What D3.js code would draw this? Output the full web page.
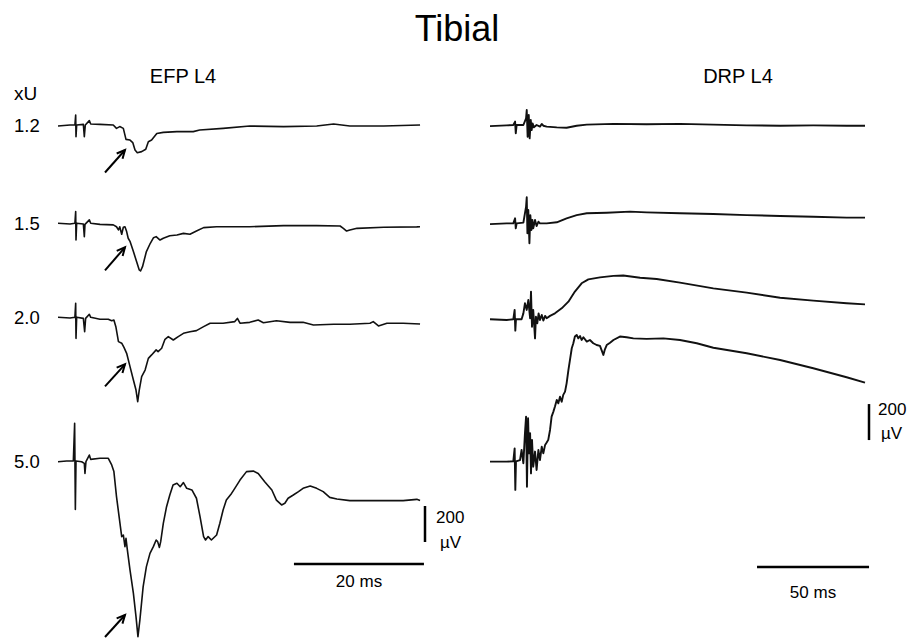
<!DOCTYPE html>
<html><head><meta charset="utf-8">
<script src="https://cdn.jsdelivr.net/npm/d3@7"></script>
<style>body{margin:0;background:#fff}text{font-family:Arial,"Liberation Sans",sans-serif;fill:#000}</style>
</head><body><svg id="c" width="917" height="638"></svg>
<script>
// ---- data (time in ms, amplitude in µV, relative to each trace baseline) ----
const title = "Tibial";
const panels = ["EFP L4", "DRP L4"];
const rowLabels = ["1.2", "1.5", "2.0", "5.0"];
const efpScaleMs = 20, drpScaleMs = 50, scaleUv = 200;

const efp12 = [[0,-3],[1.85,3],[2.6,3],[2.72,58],[2.77,-62],[2.87,3],[3.9,6],[4.05,-62],[4.2,3],[4.82,27],[5.03,8],[6.46,6],[8.5,3],[9.0,-16],[9.5,-6],[10.05,-16],[10.46,-77],[11.08,-81],[11.5,-95],[11.85,-136],[12.2,-151],[12.87,-145],[13.5,-132],[13.9,-90],[14.4,-81],[15.2,-44],[16.2,-38],[18.3,-34],[20.8,-34],[21.8,-25],[25.4,-16],[29.5,-3],[34.7,-6],[39.8,-3],[42.4,8],[44.9,-3],[50.1,-3],[55.7,3]];
const efp15 = [[0,0],[1.85,-4],[2.6,0],[2.72,65],[2.77,-93],[2.87,0],[3.9,-4],[4.05,-74],[4.15,-6],[4.82,19],[5.03,0],[6.46,-6],[8.5,-9],[9.0,-19],[9.3,-37],[9.5,-19],[9.8,-61],[10.05,-22],[10.3,-19],[10.56,-46],[10.8,-83],[11.1,-102],[11.6,-157],[12.1,-213],[12.5,-259],[12.7,-265],[13.0,-241],[13.6,-157],[14.2,-111],[14.7,-80],[15.1,-74],[15.7,-93],[16.2,-83],[17.2,-69],[18.3,-65],[19.3,-56],[20.3,-61],[21.3,-43],[22.4,-24],[24.4,-19],[29.5,-19],[34.7,-13],[39.8,-13],[43.4,-15],[43.9,-28],[44.4,-43],[44.9,-37],[46.0,-28],[50.1,-22],[55.2,-20],[55.7,-19]];
const efp20 = [[0,0],[1.85,-4],[2.6,0],[2.72,78],[2.77,-117],[2.87,0],[3.9,-6],[4.1,-80],[4.25,-6],[4.82,17],[5.03,0],[6.46,-11],[7.74,-11],[8.26,-19],[8.6,-15],[8.9,-52],[9.3,-135],[9.8,-144],[10.15,-167],[10.56,-200],[11.08,-274],[11.6,-348],[12.0,-404],[12.26,-469],[12.5,-404],[12.87,-330],[13.4,-293],[13.9,-228],[14.4,-209],[15.1,-181],[15.4,-191],[15.95,-172],[16.46,-122],[16.97,-107],[17.74,-126],[18.5,-107],[19.3,-89],[20.3,-80],[21.3,-74],[22.4,-52],[23.4,-33],[25.4,-33],[27.2,-24],[27.6,-6],[28.0,-33],[29.5,-28],[30.8,-15],[31.6,-30],[33.6,-19],[35.7,-28],[37.7,-28],[39.3,-43],[42.4,-39],[44.9,-39],[48.0,-33],[48.5,-24],[49.3,-48],[50.6,-33],[53.1,-33],[55.7,-37]];
const efp50 = [[0,-4],[1.33,0],[2.36,0],[2.56,209],[2.67,-269],[2.77,0],[3.64,-4],[4.05,-13],[4.15,-69],[4.3,-4],[4.82,33],[5.03,9],[6.46,15],[7.74,15],[8.26,-22],[8.6,-59],[9.0,-198],[9.4,-309],[9.8,-420],[10.05,-411],[10.3,-476],[10.46,-430],[10.67,-494],[11.08,-606],[11.6,-735],[12.0,-865],[12.3,-976],[12.6,-883],[13.1,-698],[13.6,-587],[14.15,-513],[14.67,-476],[15.1,-439],[15.33,-448],[15.6,-480],[15.8,-448],[16.2,-346],[16.7,-254],[17.2,-189],[17.7,-133],[18.3,-124],[18.8,-143],[19.3,-120],[19.8,-152],[20.6,-161],[21.3,-207],[21.85,-309],[22.4,-420],[22.7,-439],[23.1,-420],[23.6,-439],[24.4,-411],[24.9,-346],[25.4,-272],[25.9,-217],[26.7,-180],[27.2,-152],[28.0,-106],[29.0,-59],[30.05,-56],[30.8,-69],[31.8,-115],[32.9,-161],[33.6,-217],[34.4,-244],[34.9,-235],[35.4,-207],[36.2,-189],[37.0,-170],[37.7,-152],[38.8,-139],[39.8,-152],[40.8,-170],[41.8,-202],[42.9,-211],[44.9,-220],[50.1,-220],[53.1,-220],[55.2,-213],[55.7,-220]];

const drp12 = [[0,-6],[7.44,-2],[10.4,0],[11.2,19],[11.5,-46],[11.9,0],[14.9,0],[16.1,37],[16.4,83],[16.8,-65],[17.3,56],[17.7,-74],[18.2,28],[18.6,-28],[19.0,9],[19.6,-13],[20.8,0],[22.3,-9],[23.1,6],[23.8,-4],[25.3,-9],[29.8,-13],[34.2,-15],[38.7,-4],[43.2,2],[55.1,6],[69.9,4],[84.8,6],[99.7,2],[114.6,-2],[129.5,-4],[144.3,-2],[159.2,-4],[167.4,-4]];
const drp15 = [[0,-6],[7.44,-2],[10.4,-2],[11.2,26],[11.5,-30],[11.9,-2],[14.9,2],[16.1,91],[16.4,143],[16.7,-57],[17.1,72],[17.6,-113],[18.0,44],[18.5,-39],[18.9,17],[19.3,-30],[20.1,17],[20.8,-17],[21.6,7],[22.3,-2],[25.3,-2],[29.8,4],[34.2,26],[38.7,44],[43.2,54],[52.1,57],[62.5,63],[69.9,59],[84.8,54],[99.7,50],[114.6,44],[129.5,39],[144.3,35],[159.2,30],[167.4,30]];
const drp20 = [[0,0],[7.44,-4],[10.4,0],[11.0,52],[11.3,-63],[11.6,0],[14.1,0],[14.9,33],[15.6,89],[16.4,52],[17.1,107],[17.9,6],[18.3,154],[18.75,-41],[19.3,52],[20.1,-106],[20.5,15],[21.1,-22],[21.7,33],[22.3,-4],[23.1,24],[23.8,-7],[24.6,19],[25.3,6],[26.8,19],[29.0,33],[32.0,61],[35.0,98],[37.9,154],[40.9,200],[43.9,222],[49.1,233],[55.1,241],[59.5,243],[67.0,231],[74.4,224],[84.8,204],[99.7,172],[114.6,148],[129.5,120],[144.3,104],[159.2,89],[167.4,83]];
const drp50 = [[0,-2],[7.44,-2],[10.4,0],[11.0,72],[11.3,-159],[11.6,0],[13.4,7],[14.1,63],[14.9,-11],[15.6,156],[16.1,248],[16.5,-141],[17.0,239],[17.4,44],[17.9,156],[18.3,-67],[18.75,119],[19.3,-30],[20.1,54],[20.8,-48],[21.6,63],[22.3,7],[23.1,81],[23.8,44],[24.6,91],[25.3,104],[26.0,119],[26.8,174],[27.5,248],[28.3,276],[29.0,304],[29.8,341],[30.5,322],[31.25,359],[32.0,331],[32.7,369],[33.5,387],[34.2,433],[35.0,507],[35.7,563],[36.5,628],[37.2,656],[37.9,693],[38.7,702],[39.4,683],[40.2,696],[40.9,674],[41.7,689],[43.2,665],[44.6,674],[46.1,656],[47.6,646],[49.1,641],[49.9,615],[50.6,591],[51.3,622],[52.1,646],[53.6,659],[55.1,674],[58.0,693],[61.0,689],[64.0,683],[69.9,680],[77.4,683],[84.8,674],[92.3,656],[99.7,631],[114.6,600],[129.5,563],[144.3,517],[159.2,467],[167.4,437]];

const efpSeries = [efp12, efp15, efp20, efp50];
const drpSeries = [drp12, drp15, drp20, drp50];

// ---- layout ----
const svg = d3.select("#c");
const efpRowBase = [125.5, 223.3, 317.3, 461];
const drpRowBase = [125, 223, 319.3, 461.3];
const pxPerUv = 0.18;
const xEfp = d3.scaleLinear().domain([0, 56]).range([58, 422]);
const xDrp = d3.scaleLinear().domain([0, 167.4]).range([490, 865]);
const yFor = b => d3.scaleLinear().domain([0, 1000]).range([b, b - 1000 * pxPerUv]);

svg.append("text").attr("x", 457).attr("y", 41).attr("text-anchor", "middle")
  .style("font-size", "36px").text(title);
svg.append("text").attr("x", 183).attr("y", 83).attr("text-anchor", "middle")
  .style("font-size", "20px").text(panels[0]);
svg.append("text").attr("x", 738).attr("y", 83).attr("text-anchor", "middle")
  .style("font-size", "20px").text(panels[1]);
svg.append("text").attr("x", 14).attr("y", 100).style("font-size", "19px").text("xU");

rowLabels.forEach((lab, i) => {
  svg.append("text").attr("x", 14).attr("y", efpRowBase[i] + 6.5)
    .style("font-size", "18.5px").text(lab);
});

function drawTrace(data, x, y, w) {
  const line = d3.line().x(d => x(d[0])).y(d => y(d[1]));
  svg.append("path").attr("d", line(data)).attr("fill", "none")
    .attr("stroke", "#111").attr("stroke-width", w).attr("stroke-linejoin", "round");
}
efpSeries.forEach((s, i) => drawTrace(s, xEfp, yFor(efpRowBase[i]), 1.6));
drpSeries.forEach((s, i) => drawTrace(s, xDrp, yFor(drpRowBase[i]), 1.9));

// arrows pointing at early response on EFP traces
const arrowOffsets = [[47, 24.5], [47, 24], [69, 47], [176, 154]];
arrowOffsets.forEach((o, i) => {
  const b = efpRowBase[i];
  const x1 = 105, y1 = b + o[0], x2 = 125, y2 = b + o[1];
  const ang = Math.atan2(y2 - y1, x2 - x1), L = 9, sp = 0.45;
  svg.append("line").attr("x1", x1).attr("y1", y1).attr("x2", x2).attr("y2", y2)
    .attr("stroke", "#000").attr("stroke-width", 2);
  const p = [[x2 - L * Math.cos(ang - sp), y2 - L * Math.sin(ang - sp)], [x2, y2],
             [x2 - L * Math.cos(ang + sp), y2 - L * Math.sin(ang + sp)]];
  svg.append("path").attr("d", d3.line()(p)).attr("fill", "none")
    .attr("stroke", "#000").attr("stroke-width", 2);
});

// scale bars
const yE = yFor(efpRowBase[3]);
svg.append("line").attr("x1", 425).attr("x2", 425).attr("y1", yE(-250)).attr("y2", yE(-250 - scaleUv))
  .attr("stroke", "#000").attr("stroke-width", 2.5);
svg.append("text").attr("x", 436).attr("y", 523).style("font-size", "17px").text("200");
svg.append("text").attr("x", 440).attr("y", 548).style("font-size", "17px").text("µV");
svg.append("line").attr("x1", xEfp(36.3)).attr("x2", xEfp(36.3 + efpScaleMs)).attr("y1", 564).attr("y2", 564)
  .attr("stroke", "#000").attr("stroke-width", 2.5);
svg.append("text").attr("x", 359).attr("y", 587).attr("text-anchor", "middle").style("font-size", "17px").text("20 ms");

const yD = yFor(drpRowBase[3]);
svg.append("line").attr("x1", 869).attr("x2", 869).attr("y1", yD(118)).attr("y2", yD(118 + scaleUv))
  .attr("stroke", "#000").attr("stroke-width", 2.5);
svg.append("text").attr("x", 878).attr("y", 415).style("font-size", "17px").text("200");
svg.append("text").attr("x", 881).attr("y", 439).style("font-size", "17px").text("µV");
svg.append("line").attr("x1", xDrp(119.2)).attr("x2", xDrp(119.2 + drpScaleMs)).attr("y1", 567).attr("y2", 567)
  .attr("stroke", "#000").attr("stroke-width", 2.5);
svg.append("text").attr("x", 813).attr("y", 598).attr("text-anchor", "middle").style("font-size", "17px").text("50 ms");
</script></body></html>
